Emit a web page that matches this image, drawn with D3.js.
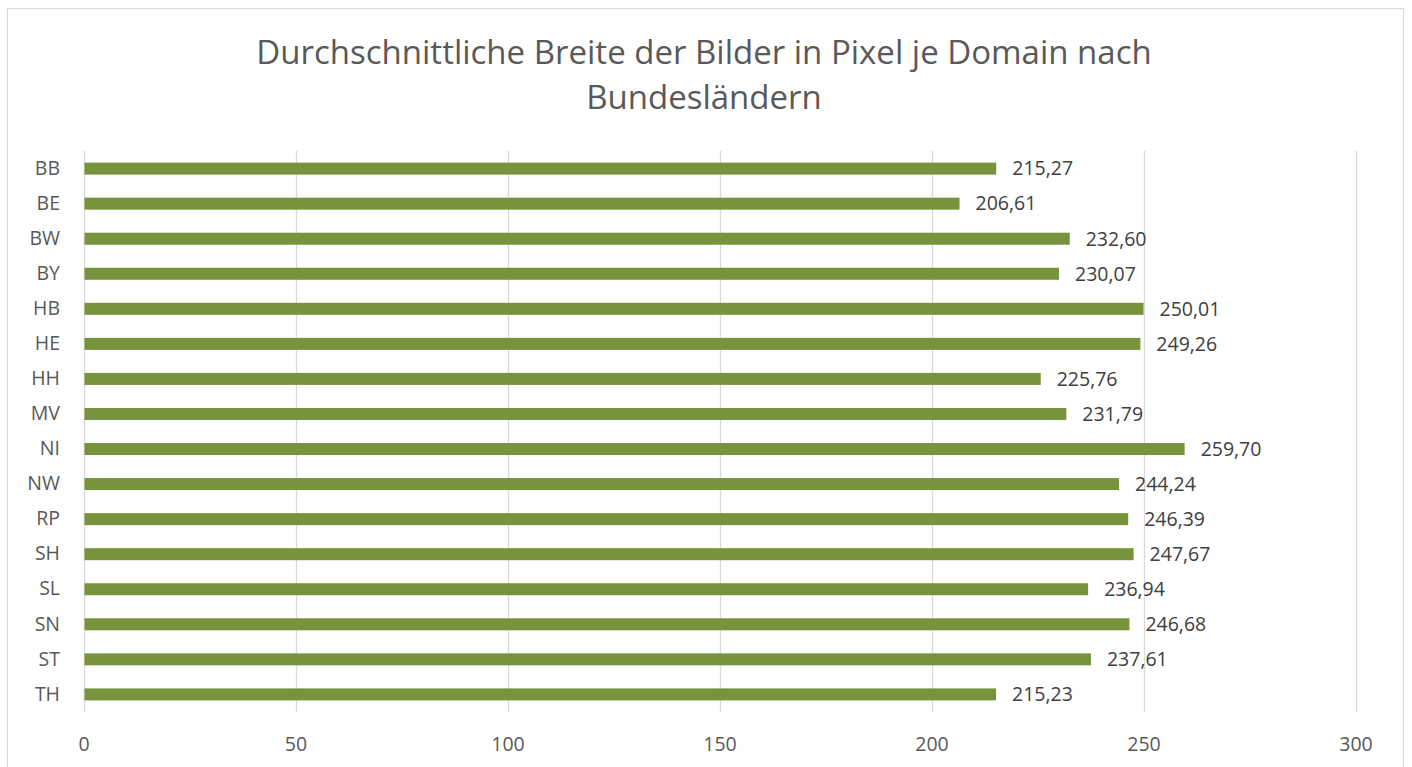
<!DOCTYPE html>
<html>
<head>
<meta charset="utf-8">
<script src="https://cdn.jsdelivr.net/npm/d3@7"></script>
<style>
  html, body { margin: 0; padding: 0; background: #fff; }
  svg { display: block; }
  text { font-family: "Open Sans", "Noto Sans", sans-serif; }
</style>
</head>
<body>
<svg id="chart" width="1412" height="767"></svg>
<script>
// Bundesländer and average image width (px) per domain
const states = ["BB","BE","BW","BY","HB","HE","HH","MV","NI","NW","RP","SH","SL","SN","ST","TH"];
const widths = [215.27,206.61,232.60,230.07,250.01,249.26,225.76,231.79,259.70,244.24,246.39,247.67,236.94,246.68,237.61,215.23];
const xTicks = [0,50,100,150,200,250,300];
const titleLines = ["Durchschnittliche Breite der Bilder in Pixel je Domain nach", "Bundesländern"];

const labelSize = 19.5;
const svg = d3.select("#chart");

// chart area frame
svg.append("rect")
  .attr("x", 7.5).attr("y", 8.5)
  .attr("width", 1396).attr("height", 780)
  .attr("fill", "#fff").attr("stroke", "#d9d9d9").attr("stroke-width", 1);

const x = d3.scaleLinear().domain([0, 300]).range([83.5, 1355.5]);
const y = d3.scaleBand().domain(states).range([151, 712]).paddingInner(0.655).paddingOuter(0.33);

// vertical gridlines
svg.append("g")
  .selectAll("line")
  .data(xTicks)
  .join("line")
  .attr("x1", d => Math.round(x(d)) + 0.5).attr("x2", d => Math.round(x(d)) + 0.5)
  .attr("y1", 151).attr("y2", 712)
  .attr("stroke", "#d9d9d9").attr("stroke-width", 1.3);

// x axis labels
const xAxis = d3.axisBottom(x).tickValues(xTicks).tickSize(0).tickPadding(0).tickFormat(d3.format("d"));
svg.append("g")
  .attr("transform", "translate(0,737)")
  .call(xAxis)
  .call(g => g.select(".domain").remove())
  .call(g => g.selectAll("text")
    .attr("font-size", labelSize).attr("fill", "#595959")
    .attr("font-family", "'Open Sans', 'Noto Sans', sans-serif"));

// y axis labels
const yAxis = d3.axisLeft(y).tickSize(0).tickPadding(0);
svg.append("g")
  .attr("transform", "translate(60,0)")
  .call(yAxis)
  .call(g => g.select(".domain").remove())
  .call(g => g.selectAll("text")
    .attr("font-size", labelSize).attr("fill", "#595959")
    .attr("font-family", "'Open Sans', 'Noto Sans', sans-serif"));

// bars
svg.append("g")
  .selectAll("rect")
  .data(states)
  .join("rect")
  .attr("x", x(0) + 1)
  .attr("y", d => y(d) + (y.bandwidth() - 12) / 2)
  .attr("width", (d, i) => x(widths[i]) - x(0) - 1)
  .attr("height", 12)
  .attr("fill", "#77933c");

// value labels
const fmt = v => v.toFixed(2).replace(".", ",");
svg.append("g")
  .selectAll("text")
  .data(states)
  .join("text")
  .attr("x", (d, i) => x(widths[i]) + 16)
  .attr("y", d => y(d) + y.bandwidth() / 2)
  .attr("dy", "0.35em")
  .attr("font-size", labelSize)
  .attr("fill", "#404040")
  .text((d, i) => fmt(widths[i]));

// title
svg.append("g")
  .selectAll("text")
  .data(titleLines)
  .join("text")
  .attr("x", 704)
  .attr("y", (d, i) => 64 + i * 45)
  .attr("text-anchor", "middle")
  .attr("font-size", 33)
  .attr("fill", "#595959")
  .text(d => d);
</script>
</body>
</html>
